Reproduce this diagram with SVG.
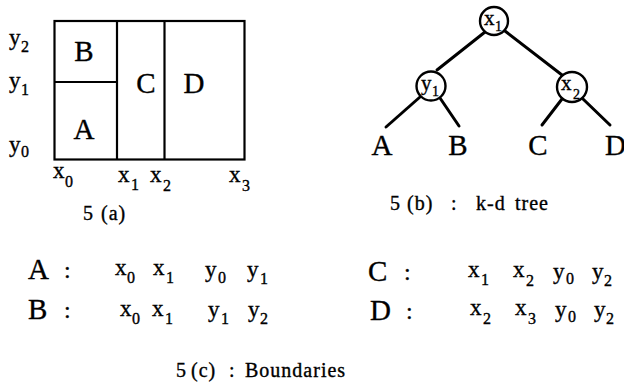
<svg xmlns="http://www.w3.org/2000/svg" width="624" height="387" viewBox="0 0 624 387">
<style>
text{font-family:"Liberation Serif","Times New Roman",serif;fill:#000;stroke:#000;stroke-width:0.35}
.big{font-size:29px}
.v{font-size:23px}
.s{font-size:16px}
.tv{font-size:21px}
.ts{font-size:14px}
.cap{font-size:20px;letter-spacing:1px}
.col{font-size:24px}
.box{fill:none;stroke:#000;stroke-width:2.2}
.edge{stroke:#000;stroke-width:3;stroke-linecap:round}
.node{fill:#fff;stroke:#000;stroke-width:2.4}
</style>
<rect width="624" height="387" fill="#fff"/>

<!-- Panel (a): partition plan -->
<g id="partition">
<rect class="box" x="54.5" y="21" width="190" height="138.5"/>
<line class="box" x1="117" y1="21" x2="117" y2="159.5"/>
<line class="box" x1="164.5" y1="21" x2="164.5" y2="159.5"/>
<line class="box" x1="54.5" y1="82" x2="117" y2="82"/>
<text class="big" x="84" y="61" text-anchor="middle">B</text>
<text class="big" x="84" y="139" text-anchor="middle">A</text>
<text class="big" x="146" y="93" text-anchor="middle">C</text>
<text class="big" x="194" y="93" text-anchor="middle">D</text>
<text class="v" x="9" y="45">y</text><text class="s" x="21" y="52">2</text>
<text class="v" x="9" y="88">y</text><text class="s" x="21" y="95">1</text>
<text class="v" x="9" y="152">y</text><text class="s" x="21" y="157">0</text>
<text class="v" x="53" y="178">x</text><text class="s" x="65" y="187">0</text>
<text class="v" x="118" y="182">x</text><text class="s" x="131" y="190">1</text>
<text class="v" x="150" y="182">x</text><text class="s" x="163" y="191">2</text>
<text class="v" x="229" y="182">x</text><text class="s" x="242" y="191">3</text>
<text class="cap" x="83" y="220">5</text><text class="cap" x="101" y="220">(a)</text>
</g>

<!-- Panel (b): k-d tree -->
<g id="connectors">
<line class="edge" x1="485" y1="32" x2="437" y2="70"/>
<line class="edge" x1="505" y1="31" x2="562" y2="75"/>
<line class="edge" x1="420" y1="97" x2="386" y2="127"/>
<line class="edge" x1="440" y1="98" x2="459" y2="126"/>
<line class="edge" x1="562" y1="99" x2="542" y2="125"/>
<line class="edge" x1="583" y1="99" x2="610" y2="125"/>
</g>
<g id="node-x1">
<circle class="node" cx="494" cy="21" r="14"/>
<text class="tv" x="484" y="25">x</text><text class="ts" x="495" y="31">1</text>
</g>
<g id="node-y1">
<circle class="node" cx="431" cy="86" r="14.5"/>
<text class="tv" x="421" y="90">y</text><text class="ts" x="432" y="96">1</text>
</g>
<g id="node-x2">
<circle class="node" cx="572" cy="87" r="15"/>
<text class="tv" x="561" y="90">x</text><text class="ts" x="573" y="99">2</text>
</g>
<g id="leaf-A"><text class="big" x="382" y="155" text-anchor="middle">A</text></g>
<g id="leaf-B"><text class="big" x="458" y="155" text-anchor="middle">B</text></g>
<g id="leaf-C"><text class="big" x="538" y="155" text-anchor="middle">C</text></g>
<g id="leaf-D"><text class="big" x="605" y="155">D</text></g>
<g id="caption-b">
<text class="cap" x="390" y="210">5</text><text class="cap" x="407" y="210">(b)</text>
<text class="cap" x="451" y="210">:</text><text class="cap" x="476" y="210">k-d</text>
<text class="cap" x="515" y="210">tree</text>
</g>

<!-- Panel (c): boundaries -->
<g id="boundaries">
<text class="big" x="28" y="279">A</text><text class="col" x="64" y="278">:</text>
<text class="v" x="115" y="275">x</text><text class="s" x="127" y="283">0</text>
<text class="v" x="153" y="275">x</text><text class="s" x="166" y="283">1</text>
<text class="v" x="205" y="277">y</text><text class="s" x="218" y="283">0</text>
<text class="v" x="247" y="277">y</text><text class="s" x="260" y="284">1</text>

<text class="big" x="28" y="319">B</text><text class="col" x="64" y="318">:</text>
<text class="v" x="120" y="316">x</text><text class="s" x="132" y="324">0</text>
<text class="v" x="152" y="316">x</text><text class="s" x="165" y="324">1</text>
<text class="v" x="208" y="317">y</text><text class="s" x="221" y="324">1</text>
<text class="v" x="248" y="317">y</text><text class="s" x="260" y="324">2</text>

<text class="big" x="368" y="281">C</text><text class="col" x="404" y="280">:</text>
<text class="v" x="468" y="277">x</text><text class="s" x="481" y="285">1</text>
<text class="v" x="513" y="277">x</text><text class="s" x="526" y="286">2</text>
<text class="v" x="553" y="279">y</text><text class="s" x="566" y="284">0</text>
<text class="v" x="592" y="279">y</text><text class="s" x="604" y="286">2</text>

<text class="big" x="370" y="320">D</text><text class="col" x="406" y="319">:</text>
<text class="v" x="470" y="315">x</text><text class="s" x="483" y="324">2</text>
<text class="v" x="515" y="315">x</text><text class="s" x="528" y="324">3</text>
<text class="v" x="555" y="317">y</text><text class="s" x="568" y="322">0</text>
<text class="v" x="594" y="317">y</text><text class="s" x="606" y="324">2</text>
</g>
<g id="caption-c">
<text class="cap" x="176" y="377">5</text><text class="cap" x="191" y="377">(c)</text>
<text class="cap" x="229" y="377">:</text><text class="cap" x="245" y="377">Boundaries</text>
</g>
</svg>
